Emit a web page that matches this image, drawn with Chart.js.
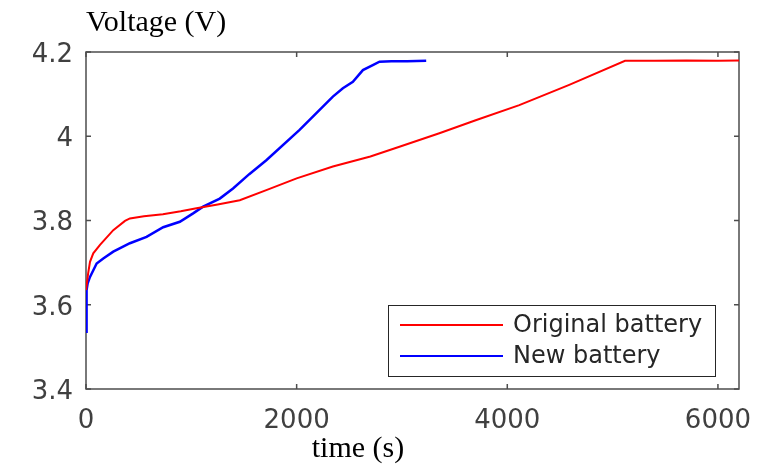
<!DOCTYPE html>
<html>
<head>
<meta charset="utf-8">
<script src="https://cdn.jsdelivr.net/npm/chart.js@4.4.1/dist/chart.umd.min.js"></script>
<style>
html, body { margin: 0; padding: 0; background: #fff; }
#wrap { width: 780px; height: 467px; }
</style>
</head>
<body>
<div id="wrap"><canvas id="voltChart" width="780" height="467"></canvas></div>
<script>
// original battery (red curve) - time in s, voltage in V
const origTime = [0, 20, 38, 69, 133, 259, 370, 417, 550, 730, 900, 1049, 1250, 1460, 1712, 2000, 2344, 2700, 2976, 3355, 3700, 4114, 4588, 5118, 5400, 5700, 6000, 6200];
const origVolt = [3.635, 3.674, 3.702, 3.722, 3.742, 3.777, 3.799, 3.805, 3.810, 3.815, 3.822, 3.829, 3.838, 3.848, 3.872, 3.900, 3.928, 3.952, 3.975, 4.007, 4.038, 4.074, 4.122, 4.179, 4.179, 4.180, 4.179, 4.180];

// new battery (blue curve)
const newTime = [0, 3, 8, 15, 38, 101, 164, 259, 417, 575, 733, 891, 1017, 1112, 1270, 1396, 1550, 1712, 2028, 2344, 2439, 2534, 2629, 2723, 2787, 2900, 3050, 3230];
const newVolt = [3.536, 3.600, 3.635, 3.650, 3.666, 3.698, 3.710, 3.726, 3.746, 3.761, 3.784, 3.797, 3.817, 3.833, 3.852, 3.876, 3.910, 3.943, 4.015, 4.094, 4.114, 4.129, 4.157, 4.169, 4.177, 4.178, 4.178, 4.179];

const seriesNames = ['Original battery', 'New battery'];
const seriesColors = ['#ff0000', '#0000ff'];

const xTicks = [0, 2000, 4000, 6000];
const xTickLabels = ['0', '2000', '4000', '6000'];
const yTicks = [3.4, 3.6, 3.8, 4, 4.2];
const yTickLabels = ['3.4', '3.6', '3.8', '4', '4.2'];

function toPoints(t, v) {
    return t.map((x, i) => ({ x: x, y: v[i] }));
}

const tickFont = { family: '"DejaVu Sans"', size: 26 };

// matlab style box with inward ticks
const boxFrame = {
    id: 'boxFrame',
    beforeDatasetsDraw(chart) {
        const { ctx, chartArea: a, scales: { x, y } } = chart;
        ctx.save();
        ctx.strokeStyle = '#4d4d4d';
        ctx.lineWidth = 1.5;
        ctx.strokeRect(a.left, a.top, a.right - a.left, a.bottom - a.top);
        ctx.beginPath();
        xTicks.forEach(v => {
            const px = x.getPixelForValue(v);
            ctx.moveTo(px, a.bottom); ctx.lineTo(px, a.bottom - 5);
            ctx.moveTo(px, a.top); ctx.lineTo(px, a.top + 5);
        });
        yTicks.forEach(v => {
            const py = y.getPixelForValue(v);
            ctx.moveTo(a.left, py); ctx.lineTo(a.left + 5, py);
            ctx.moveTo(a.right, py); ctx.lineTo(a.right - 5, py);
        });
        ctx.stroke();

        ctx.fillStyle = '#000';
        ctx.font = '30px "Liberation Serif"';
        ctx.textBaseline = 'alphabetic';
        ctx.textAlign = 'left';
        ctx.fillText('Voltage (V)', a.left, 31);
        ctx.textAlign = 'center';
        ctx.fillText('time (s)', 358, 457);
        ctx.restore();
    },
    afterDatasetsDraw(chart) {
        const ctx = chart.ctx;
        ctx.save();
        ctx.fillStyle = '#fff';
        ctx.fillRect(388, 305, 327, 71);
        ctx.strokeStyle = '#262626';
        ctx.lineWidth = 1;
        ctx.strokeRect(388.5, 305.5, 327, 71);
        ctx.font = '24px "DejaVu Sans"';
        ctx.textBaseline = 'middle';
        ctx.textAlign = 'left';
        chart.data.datasets.forEach((ds, i) => {
            const ly = 325 + i * 31;
            ctx.strokeStyle = ds.borderColor;
            ctx.lineWidth = 2;
            ctx.beginPath();
            ctx.moveTo(400, ly); ctx.lineTo(503, ly);
            ctx.stroke();
            ctx.fillStyle = '#262626';
            ctx.fillText(ds.label, 513, ly + 1);
        });
        ctx.restore();
    }
};

const chart = new Chart(document.getElementById('voltChart'), {
    type: 'line',
    data: {
        datasets: [{
            label: seriesNames[0],
            data: toPoints(origTime, origVolt),
            borderColor: seriesColors[0],
            backgroundColor: seriesColors[0],
            borderWidth: 2,
            pointRadius: 0,
            tension: 0,
            fill: false
        }, {
            label: seriesNames[1],
            data: toPoints(newTime, newVolt),
            borderColor: seriesColors[1],
            backgroundColor: seriesColors[1],
            borderWidth: 2.5,
            pointRadius: 0,
            tension: 0,
            fill: false
        }]
    },
    options: {
        responsive: false,
        animation: false,
        layout: { padding: { top: 52, right: 41, left: 0, bottom: 0 } },
        plugins: { legend: { display: false }, tooltip: { enabled: false } },
        scales: {
            x: {
                type: 'linear',
                min: 0,
                max: 6200,
                grid: { display: false, drawTicks: false },
                border: { display: false },
                afterBuildTicks: s => { s.ticks = xTicks.map(v => ({ value: v })); },
                afterFit: s => { s.height = 78; },
                ticks: {
                    font: tickFont,
                    color: '#404040',
                    padding: 17,
                    maxRotation: 0,
                    callback: v => xTickLabels[xTicks.indexOf(v)]
                }
            },
            y: {
                type: 'linear',
                min: 3.4,
                max: 4.2,
                grid: { display: false, drawTicks: false },
                border: { display: false },
                afterBuildTicks: s => { s.ticks = yTicks.map(v => ({ value: v })); },
                afterFit: s => { s.width = 86; },
                ticks: {
                    font: tickFont,
                    color: '#404040',
                    padding: 13,
                    labelOffset: 3,
                    callback: v => yTickLabels[yTicks.indexOf(v)]
                }
            }
        }
    },
    plugins: [boxFrame]
});
</script>
</body>
</html>
